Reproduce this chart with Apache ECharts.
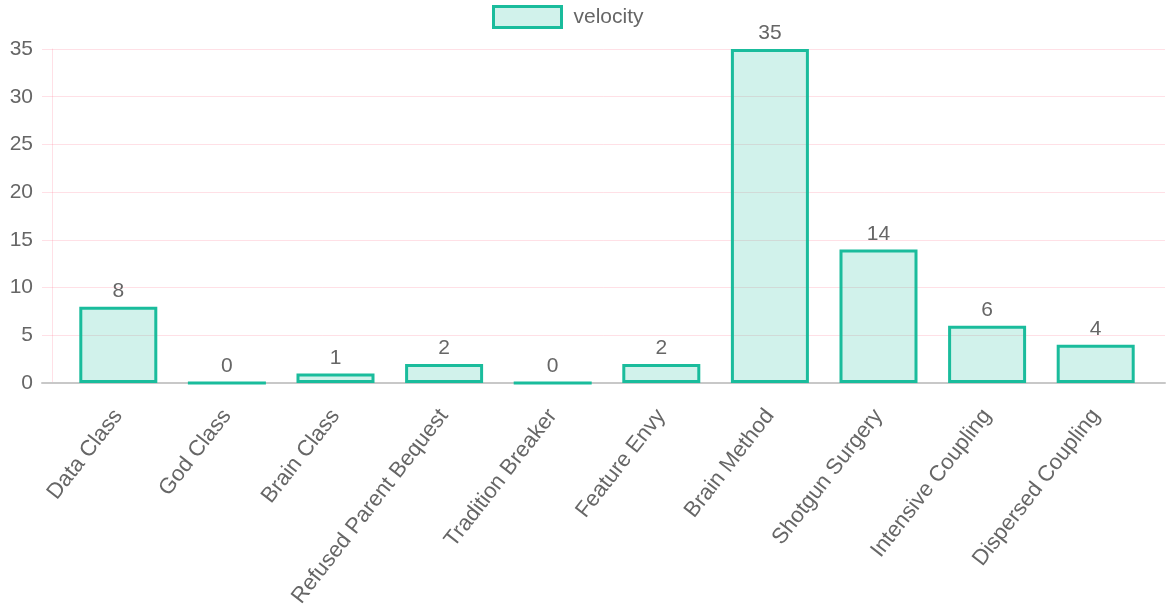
<!DOCTYPE html>
<html>
<head>
<meta charset="utf-8">
<script src="https://cdn.jsdelivr.net/npm/echarts@6/dist/echarts.min.js"></script>
<style>
  html, body { margin: 0; padding: 0; background: #fff; }
  #chart { width: 1169px; height: 614px; }
</style>
</head>
<body>
<div id="chart"></div>
<script>
// Code smell categories and how many of each were found
const categories = [
  'Data Class', 'God Class', 'Brain Class', 'Refused Parent Bequest',
  'Tradition Breaker', 'Feature Envy', 'Brain Method', 'Shotgun Surgery',
  'Intensive Coupling', 'Dispersed Coupling'
];
const velocity = [8, 0, 1, 2, 0, 2, 35, 14, 6, 4];
const seriesName = 'velocity';
const yMin = 0, yMax = 35, yStep = 5;

const textColor = '#666';
const gridPink = 'rgba(255, 99, 132, 0.2)';
const teal = 'rgb(26, 188, 156)';
const tealFill = 'rgba(26, 188, 156, 0.2)';
const font = 'Liberation Sans, Arial, Helvetica, sans-serif';
const fontSize = 21;

const plotTop = 49, plotBottom = 231;

const chart = echarts.init(document.getElementById('chart'));
chart.setOption({
  animation: false,
  textStyle: { fontFamily: font },
  legend: {
    top: 5,
    left: 492,
    padding: 0,
    itemWidth: 68,
    itemHeight: 21,
    icon: 'rect',
    itemStyle: { borderColor: teal, borderWidth: 3 },
    textStyle: { color: textColor, fontSize: fontSize, fontFamily: font, padding: [0, 0, 0, 7] },
    data: [seriesName]
  },
  grid: [
    // background: horizontal rules, value labels and the zero line
    { left: 42, right: 4, top: plotTop, bottom: plotBottom, containLabel: false },
    // bars and category labels
    { left: 64, right: 19, top: plotTop, bottom: plotBottom, containLabel: false },
    // vertical value-axis line
    { left: 52, right: 4, top: plotTop, bottom: plotBottom, containLabel: false }
  ],
  xAxis: [
    {
      gridIndex: 0, type: 'category', data: [''],
      axisLine: { lineStyle: { color: '#c8c8c8', width: 2 } },
      axisTick: { show: false }, axisLabel: { show: false }, splitLine: { show: false }
    },
    {
      gridIndex: 1, type: 'category', data: categories,
      axisLine: { show: false }, axisTick: { show: false }, splitLine: { show: false },
      axisLabel: {
        rotate: 52, interval: 0, margin: 29,
        color: textColor, fontSize: 22, fontFamily: font
      }
    },
    {
      gridIndex: 2, type: 'category', data: [''],
      axisLine: { show: false }, axisTick: { show: false }, axisLabel: { show: false }
    }
  ],
  yAxis: [
    {
      gridIndex: 0, type: 'value', min: yMin, max: yMax, interval: yStep,
      axisLine: { show: false }, axisTick: { show: false },
      splitLine: { show: true, lineStyle: { color: gridPink, width: 1 } },
      axisLabel: { color: textColor, fontSize: fontSize, fontFamily: font, margin: 9 }
    },
    {
      gridIndex: 1, type: 'value', min: yMin, max: yMax, interval: yStep,
      axisLine: { show: false }, axisTick: { show: false },
      splitLine: { show: false }, axisLabel: { show: false }
    },
    {
      gridIndex: 2, type: 'value', min: yMin, max: yMax, interval: yStep,
      axisLine: { show: true, lineStyle: { color: gridPink, width: 1 } },
      axisTick: { show: false }, splitLine: { show: false }, axisLabel: { show: false }
    }
  ],
  series: [{
    name: seriesName,
    type: 'bar',
    xAxisIndex: 1,
    yAxisIndex: 1,
    data: velocity,
    barWidth: 78,
    itemStyle: { color: tealFill, borderColor: teal, borderWidth: 3 },
    label: {
      show: true, position: 'top', distance: 5,
      color: textColor, fontSize: fontSize, fontFamily: font
    }
  }]
});
</script>
</body>
</html>
